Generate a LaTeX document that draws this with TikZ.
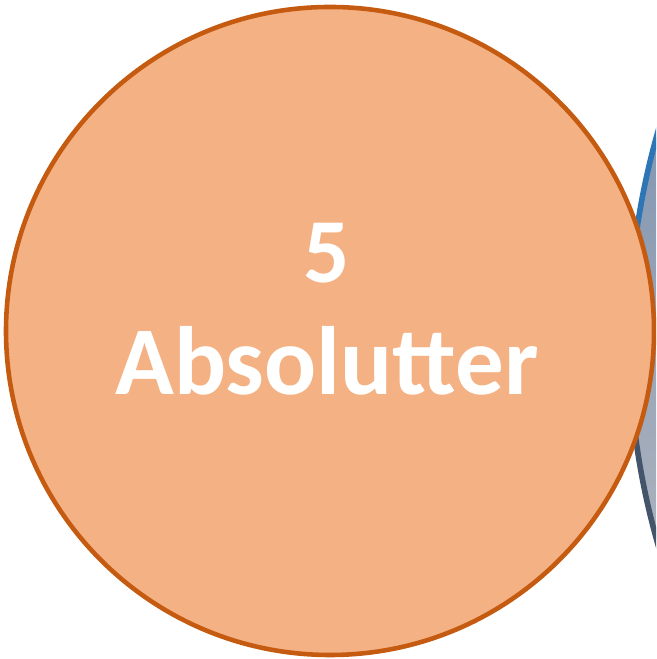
\documentclass[tikz,border=0pt]{standalone}
\usepackage{fontspec}
\setmainfont{Carlito}
\usepackage{tikz}
\usetikzlibrary{calc}
\definecolor{venn-orange}{HTML}{F4B183}
\definecolor{venn-orange-line}{HTML}{C55A11}
\definecolor{venn-blue-top}{HTML}{8296B1}
\definecolor{venn-blue-bottom}{HTML}{AAB1BD}
\definecolor{venn-blue-line}{HTML}{2E75B6}
\definecolor{venn-slate-line}{HTML}{44546A}

\begin{document}
\begin{tikzpicture}[x=0.01cm, y=0.01cm]
    \useasboundingbox (0,0) rectangle (656,659);
    \clip (0,0) rectangle (656,659);
    % Second set (mostly off the picture)
    \coordinate (blue) at (1380,321);
    \begin{scope}
        \clip (blue) circle (751);
        \shade[top color=venn-blue-top, bottom color=venn-blue-bottom] (600,120) rectangle (660,550);
    \end{scope}
    \draw[venn-blue-line, line width=1.6pt] (blue) ++(180:751) arc (180:160:751);
    \draw[venn-slate-line, line width=1.6pt] (blue) ++(180:751) arc (180:200:751);
    % First set
    \coordinate (orange) at (330,328);
    \filldraw[fill=venn-orange, draw=venn-orange-line, line width=1.3pt] (orange) circle (324);
    % Label
    \node[white, anchor=base, font=\bfseries\fontsize{26}{30}\selectfont, inner sep=0pt] (count) at (327,376) {5};
    \node[white, anchor=base, font=\bfseries\fontsize{27.6}{32}\selectfont, inner sep=0pt] (name) at (327,264) {Absolutter};
\end{tikzpicture}
\end{document}
